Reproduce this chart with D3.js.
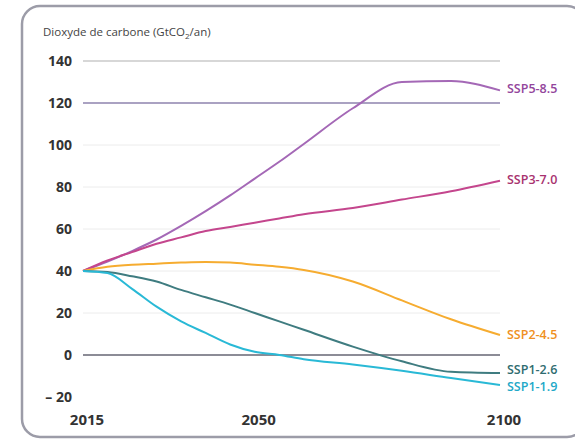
<!DOCTYPE html>
<html><head><meta charset="utf-8">
<script src="https://cdn.jsdelivr.net/npm/d3@7"></script>
<style>body{margin:0;background:#fff;}svg{display:block;font-family:"Open Sans",sans-serif;}</style>
</head><body>
<script>
const years = [2015,2020,2025,2030,2035,2040,2045,2050,2055,2060,2070,2080,2090,2100];
const ssp585 = [40,44.5,49.5,55,61.5,68.5,76,84,92,100.5,117.5,130,130.5,126];
const ssp370 = [40,45,49,53,56,59,61,63,65,67,70,74,78,83];
const ssp245 = [40,42,43,43.5,44,44.3,44,43,42,40.5,35,26,17,9.5];
const ssp126 = [40,39.5,37.5,35,31,27.5,24,20,16,12,4,-3,-8,-8.6];
const ssp119 = [40,39,31.5,23,16,10.5,5,1.5,0,-2,-4.5,-7.5,-11,-14.3];
const seriesNames = ["SSP5-8.5","SSP3-7.0","SSP2-4.5","SSP1-2.6","SSP1-1.9"];
const yTicks = [140,120,100,80,60,40,20,0,-20];
const xTicks = [2015,2050,2100];
const title = "Dioxyde de carbone (GtCO";

const series = [
  {name:seriesNames[0], values:ssp585, line:"#a468b6", text:"#93459c", ly:89},
  {name:seriesNames[1], values:ssp370, line:"#c4468d", text:"#a8326f", ly:180},
  {name:seriesNames[2], values:ssp245, line:"#f6ac30", text:"#ef9022", ly:335},
  {name:seriesNames[3], values:ssp126, line:"#3f7c80", text:"#2f6c70", ly:370},
  {name:seriesNames[4], values:ssp119, line:"#29b9d6", text:"#22a8c8", ly:387}
];

const W=575,H=441;
const svg=d3.select("body").append("svg").attr("width",W).attr("height",H);
svg.append("rect").attr("x",22).attr("y",6).attr("width",563).attr("height",431)
  .attr("rx",18).attr("fill","none").attr("stroke","#9c9ca8").attr("stroke-width",2.5);

const x=d3.scaleLinear().domain([2015,2100]).range([83,500]);
const y=d3.scaleLinear().domain([0,140]).range([355,61]);

// gridlines
const gridStyle = v => v===0?{c:"#8c8c96",w:2}:v===120?{c:"#aaa2c2",w:2}:v===140?{c:"#cacaca",w:1.5}:{c:"#ececec",w:1};
yTicks.filter(v=>v>=0).forEach(v=>{
  const s=gridStyle(v);
  svg.append("line").attr("x1",x(2015)).attr("x2",x(2100)).attr("y1",y(v)).attr("y2",y(v))
    .attr("stroke",s.c).attr("stroke-width",s.w);
});

// y labels
svg.selectAll(".yl").data(yTicks).enter().append("text")
  .attr("x",72).attr("y",d=>y(d)+5).attr("text-anchor","end")
  .attr("font-size",14).attr("font-weight",700).attr("fill","#333")
  .text(d=>d<0?"– "+Math.abs(d):d);

// x labels
svg.selectAll(".xl").data(xTicks).enter().append("text")
  .attr("x",d=>x(d)+4).attr("y",425).attr("text-anchor","middle")
  .attr("font-size",15).attr("font-weight",700).attr("fill","#333").text(d=>d);

// title
const t=svg.append("text").attr("x",43).attr("y",36).attr("font-size",11.5).attr("fill","#444").text(title);
t.append("tspan").attr("font-size",8).attr("dy",3).text("2");
t.append("tspan").attr("dy",-3).text("/an)");

// lines
const line=d3.line().x((d,i)=>x(years[i])).y(d=>y(d)).curve(d3.curveMonotoneX);
series.forEach(s=>{
  svg.append("path").attr("d",line(s.values)).attr("fill","none")
    .attr("stroke",s.line).attr("stroke-width",2);
  svg.append("text").attr("x",507).attr("y",s.ly).attr("dy","0.35em")
    .attr("font-size",12.5).attr("font-weight",600).attr("fill",s.text).text(s.name);
});
</script>
</body></html>
